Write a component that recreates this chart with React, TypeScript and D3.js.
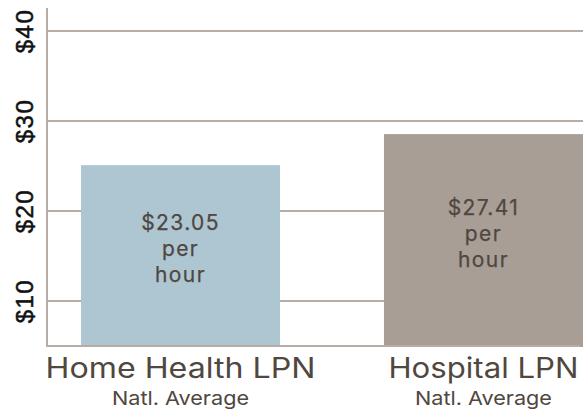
import React from "react";
import * as d3 from "d3";

const categories = ["Home Health LPN", "Hospital LPN"];
const subLabels = ["Natl. Average", "Natl. Average"];
const barValues = [25.1, 28.55];
const barTexts = [["$23.05", "per", "hour"], ["$27.41", "per", "hour"]];
const barColors = ["#aec6d2", "#a89e96"];
const yTicks = [10, 20, 30, 40];
const yDomain: [number, number] = [4.9, 42.5];

const W = 587;
const H = 413;

export default function App() {
  const y = d3.scaleLinear().domain(yDomain).range([347, 8.5]);
  const x = d3.scaleBand().domain(categories).range([81, 583]).paddingInner(0.343).paddingOuter(0);
  const axisColor = "#b7ada6";
  const textColor = "#4f4740";
  const font = "Inter, 'Noto Sans', sans-serif";
  const catLen = [270, 190];
  return (
    <svg width={W} height={H} style={{ position: "absolute", left: 0, top: 0, background: "#fff" }}>
      {yTicks.map((t) => (
        <g key={t}>
          <line x1={47} x2={583} y1={y(t)} y2={y(t)} stroke={axisColor} strokeWidth={2} />
          <text
            transform={`translate(33,${y(t)}) rotate(-90)`}
            textAnchor="middle"
            fontFamily="'Liberation Sans', Arial, sans-serif"
            fontSize={24}
            letterSpacing={1.5}
            stroke="#111"
            strokeWidth={0.5}
            fill="#111"
          >
            {"$" + t}
          </text>
        </g>
      ))}
      {categories.map((c, i) => {
        const bx = x(c)!;
        const bw = x.bandwidth();
        const top = y(barValues[i]);
        const bottom = y(yDomain[0]);
        const cy = (top + bottom) / 2;
        return (
          <g key={c}>
            <rect x={bx} y={top} width={bw} height={bottom - top} fill={barColors[i]} />
            <text
              x={bx + bw / 2}
              y={cy - 26}
              textAnchor="middle"
              fontFamily={font}
              fontSize={21}
              letterSpacing={1.4}
              stroke={textColor}
              strokeWidth={0.25}
              fill={textColor}
            >
              {barTexts[i].map((s, j) => (
                <tspan key={j} x={bx + bw / 2} dy={j === 0 ? 0 : 26}>
                  {s}
                </tspan>
              ))}
            </text>
            <text
              x={bx + bw / 2}
              y={378}
              textAnchor="middle"
              fontFamily={font}
              fontSize={28}
              textLength={catLen[i]}
              lengthAdjust="spacingAndGlyphs"
              fill={textColor}
            >
              {c}
            </text>
            <text
              x={bx + bw / 2}
              y={405}
              textAnchor="middle"
              fontFamily={font}
              fontSize={19}
              textLength={137}
              lengthAdjust="spacingAndGlyphs"
              fill={textColor}
            >
              {subLabels[i]}
            </text>
          </g>
        );
      })}
      <line x1={47} x2={47} y1={8} y2={347} stroke={axisColor} strokeWidth={2} />
      <line x1={46} x2={580} y1={346} y2={346} stroke={axisColor} strokeWidth={2} />
    </svg>
  );
}
